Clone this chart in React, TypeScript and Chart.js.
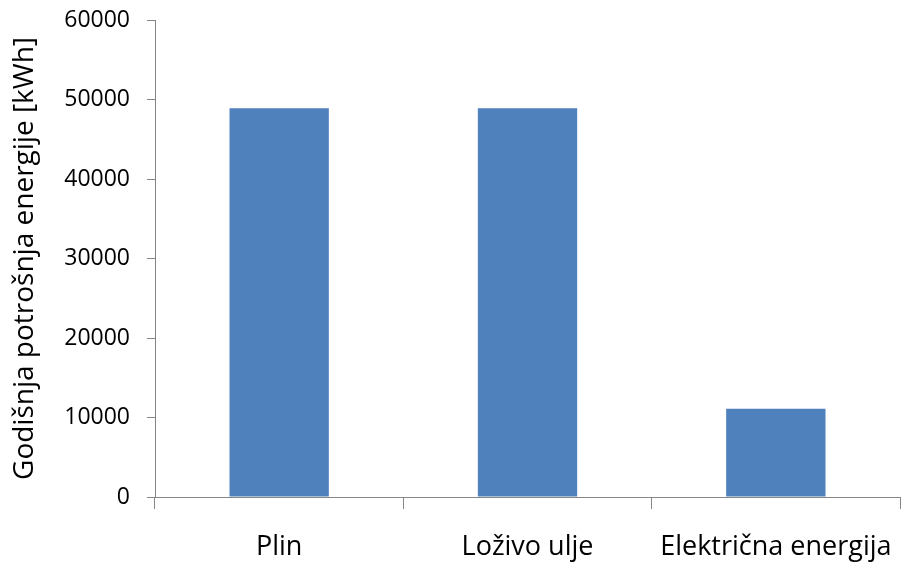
import React, { useRef, useEffect } from 'react';
import { Chart, registerables } from 'chart.js';

Chart.register(...registerables);

const categories = ['Plin', 'Loživo ulje', 'Električna energija'];
const consumption = [48900, 48900, 11100];
const yTitle = 'Godišnja potrošnja energije [kWh]';

const axisGrey = '#868686';
const textColor = '#000000';
const fontFamily = "'Open Sans', 'DejaVu Sans', sans-serif";

const App: React.FC = () => {
  const canvasRef = useRef<HTMLCanvasElement>(null);
  const chartRef = useRef<Chart | null>(null);

  useEffect(() => {
    document.body.style.margin = '0';
    if (!canvasRef.current) return;
    if (chartRef.current) chartRef.current.destroy();

    chartRef.current = new Chart(canvasRef.current, {
      type: 'bar',
      data: {
        labels: categories,
        datasets: [{
          data: consumption,
          backgroundColor: '#4f81bd',
          borderWidth: 0,
          barPercentage: 0.4,
          categoryPercentage: 1,
        }],
      },
      options: {
        responsive: false,
        animation: false,
        layout: { padding: { top: 20, right: 1, left: 0, bottom: 0 } },
        plugins: {
          legend: { display: false },
          tooltip: { enabled: false },
        },
        scales: {
          x: {
            offset: true,
            grid: {
              offset: true,
              drawOnChartArea: false,
              color: axisGrey,
              tickLength: 12,
            },
            border: { color: axisGrey, width: 1 },
            ticks: {
              color: textColor,
              padding: 22,
              maxRotation: 0,
              autoSkip: false,
              font: { family: fontFamily, size: 27 },
            },
            afterFit: (scale: any) => {
              scale.height = 66;
              scale.paddingLeft = 0;
              scale.paddingRight = 0;
            },
          },
          y: {
            min: 0,
            max: 60000,
            ticks: {
              stepSize: 10000,
              color: textColor,
              padding: 17,
              font: { family: fontFamily, size: 23 },
              callback: (v: any) => String(v),
            },
            grid: {
              drawOnChartArea: false,
              color: axisGrey,
              tickLength: 8,
            },
            border: { color: axisGrey, width: 1 },
            title: {
              display: true,
              text: yTitle,
              color: textColor,
              font: { family: fontFamily, size: 28 },
              padding: { top: 8, bottom: 0 },
            },
            afterFit: (scale: any) => {
              scale.width = 155;
              scale.paddingTop = 0;
              scale.paddingBottom = 0;
            },
          },
        },
      },
    });

    return () => {
      if (chartRef.current) {
        chartRef.current.destroy();
        chartRef.current = null;
      }
    };
  }, []);

  return (
    <div style={{ width: 901, height: 563, background: '#ffffff' }}>
      <canvas ref={canvasRef} width={901} height={563}></canvas>
    </div>
  );
};

export default App;
